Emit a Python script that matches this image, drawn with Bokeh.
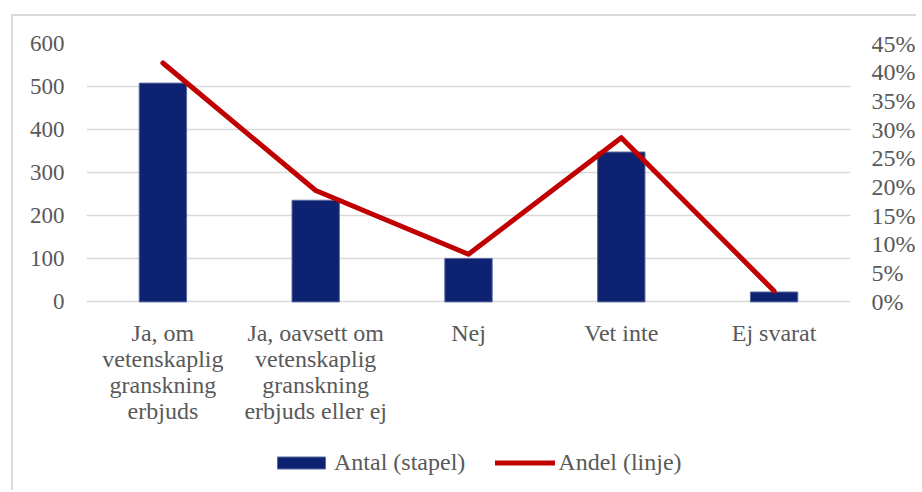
from bokeh.plotting import figure
from bokeh.models import (LinearAxis, Range1d, FactorRange, FixedTicker, NumeralTickFormatter,
                          Legend, LegendItem, ColumnDataSource)
from bokeh.embed import file_html
from bokeh.resources import INLINE

categories = ["Ja, om\nvetenskaplig\ngranskning\nerbjuds",
              "Ja, oavsett om\nvetenskaplig\ngranskning\nerbjuds eller ej",
              "Nej", "Vet inte", "Ej svarat"]
antal = [508, 236, 101, 348, 23]
andel = [0.416, 0.194, 0.083, 0.286, 0.019]
left_ticks = [0, 100, 200, 300, 400, 500, 600]
right_ticks = [0.0, 0.05, 0.10, 0.15, 0.20, 0.25, 0.30, 0.35, 0.40, 0.45]

FONT = "Liberation Serif"
TXT = "#595959"
GRID = "#d9d9d9"

# frame extends below the zero line so that the axis labels and legend sit inside it
Y_LOW = -442.6
PCT_LOW = Y_LOW * 0.45 / 600

src = ColumnDataSource(dict(cat=categories, antal=antal, andel=andel))

p = figure(x_range=FactorRange(*categories, range_padding=0), y_range=Range1d(Y_LOW, 600),
           width=905, height=476, output_backend="svg", toolbar_location=None,
           min_border_left=73, min_border_right=66, min_border_top=27, min_border_bottom=0,
           background_fill_color="white", border_fill_color="white", outline_line_color=None)
p.margin = (14, 0, 0, 11)
p.styles = {"border-left": "2px solid #d9d9d9", "border-top": "2px solid #d9d9d9"}

p.extra_y_ranges = {"pct": Range1d(PCT_LOW, 0.45)}

bars = p.vbar(x="cat", top="antal", width=0.31, source=src,
              fill_color="#0d2270", line_color="#5a6aa0", line_width=1)
line = p.line(x="cat", y="andel", source=src, y_range_name="pct",
              line_color="#c00000", line_width=5, line_cap="round", line_join="round")

def style_axis(ax, size, standoff):
    ax.axis_line_color = None
    ax.major_tick_line_color = None
    ax.minor_tick_line_color = None
    ax.major_tick_out = 0
    ax.major_tick_in = 0
    ax.minor_tick_out = 0
    ax.major_label_standoff = standoff
    ax.major_label_text_font = FONT
    ax.major_label_text_font_size = size
    ax.major_label_text_color = TXT

# left axis
ya = p.yaxis[0]
ya.ticker = FixedTicker(ticks=left_ticks)
style_axis(ya, "23px", 22)

# right axis
ra = LinearAxis(y_range_name="pct", ticker=FixedTicker(ticks=right_ticks),
                formatter=NumeralTickFormatter(format="0%"))
style_axis(ra, "24px", 21)
p.add_layout(ra, "right")

# x axis, drawn at the zero line
xa = p.xaxis[0]
style_axis(xa, "24px", 18)
xa.fixed_location = 0
xa.major_label_text_line_height = 1.0

p.xgrid.grid_line_color = None
p.ygrid.grid_line_color = GRID
p.ygrid.grid_line_width = 1.5

legend = Legend(items=[LegendItem(label="Antal (stapel)", renderers=[bars]),
                       LegendItem(label="Andel (linje)", renderers=[line])],
                orientation="horizontal", location=(185, 16),
                label_text_font=FONT, label_text_font_size="24px", label_text_color=TXT,
                glyph_width=60, glyph_height=15, label_standoff=3, spacing=30, padding=0,
                border_line_color=None, background_fill_alpha=0, margin=0)
p.add_layout(legend, "center")

open("out.html", "w").write(file_html(p, INLINE))
